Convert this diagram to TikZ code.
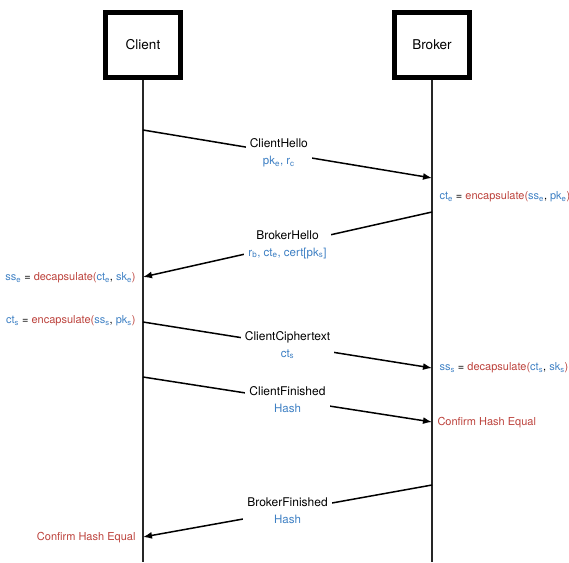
\documentclass[tikz,border=0pt]{standalone}
\usepackage{fontspec}
\setmainfont{TeX Gyre Heros}
\usetikzlibrary{arrows.meta,positioning}
\definecolor{keyblue}{RGB}{62,128,196}
\definecolor{opred}{RGB}{188,66,60}
\tikzset{font=\fontsize{11}{13}\selectfont}
\tikzset{party/.style={draw, line width=5pt, minimum width=75pt, minimum height=65pt,
    font=\fontsize{13.5}{16}\selectfont}}
\tikzset{lifeline/.style={line width=1.4pt, black!85}}
\tikzset{msg/.style={line width=1.5pt, -{Latex[length=9pt,width=7pt]}}}
\tikzset{msglabel/.style={fill=white, align=center, inner sep=4pt,
    font=\fontsize{12}{17}\selectfont}}
\newcommand{\keyv}[2]{\textcolor{keyblue}{#1\textsubscript{#2}}}
\newcommand{\redop}[1]{\textcolor{opred}{#1}}
\newcommand{\sublabel}[1]{{\fontsize{11.5}{13}\selectfont\color{keyblue}#1}}

\begin{document}
\begin{tikzpicture}[x=1pt,y=-1pt]
  \useasboundingbox (0,0) rectangle (569,562);

  \node[party] (client) at (143,45) {Client};
  \node[party] (broker) at (432,45) {Broker};
  \coordinate (clientend) at (143,562);
  \coordinate (brokerend) at (432,562);
  \draw[lifeline] (client) -- (clientend);
  \draw[lifeline] (broker) -- (brokerend);

  % points on the lifelines
  \coordinate (c1) at (143,130);
  \coordinate (b1) at (432,178);
  \coordinate (b2) at (432,212);
  \coordinate (c2) at (143,277);
  \coordinate (c3) at (143,322);
  \coordinate (b3) at (432,368);
  \coordinate (c4) at (143,377);
  \coordinate (b4) at (432,422);
  \coordinate (b5) at (432,485);
  \coordinate (c5) at (143,537);

  \draw[msg] (c1) -- (b1)
    node[msglabel, pos=0.47] (hello) {ClientHello\\ \sublabel{pk\textsubscript{e}, r\textsubscript{c}}};
  \draw[msg] (b2) -- (c2)
    node[msglabel, midway] (bhello) {BrokerHello\\ \sublabel{r\textsubscript{b}, ct\textsubscript{e}, cert[pk\textsubscript{s}]}};
  \draw[msg] (c3) -- (b3)
    node[msglabel, midway] (cipher) {ClientCiphertext\\ \sublabel{ct\textsubscript{s}}};
  \draw[msg] (c4) -- (b4)
    node[msglabel, midway] (cfin) {ClientFinished\\ \sublabel{Hash}};
  \draw[msg] (b5) -- (c5)
    node[msglabel, midway] (bfin) {BrokerFinished\\ \sublabel{Hash}};

  % local computations
  \node[anchor=west] (encb) at (436,197)
    {\keyv{ct}{e} = \redop{encapsulate(}\keyv{ss}{e}, \keyv{pk}{e}\redop{)}};
  \node[anchor=east] (decc) at (139,278)
    {\keyv{ss}{e} = \redop{decapsulate(}\keyv{ct}{e}, \keyv{sk}{e}\redop{)}};
  \node[anchor=east] (encc) at (139,321)
    {\keyv{ct}{s} = \redop{encapsulate(}\keyv{ss}{s}, \keyv{pk}{s}\redop{)}};
  \node[anchor=west] (decb) at (436,368)
    {\keyv{ss}{s} = \redop{decapsulate(}\keyv{ct}{s}, \keyv{sk}{s}\redop{)}};
  \node[anchor=west, text=opred] (okb) at (434,423) {Confirm Hash Equal};
  \node[anchor=east, text=opred] (okc) at (139,538) {Confirm Hash Equal};
\end{tikzpicture}
\end{document}
